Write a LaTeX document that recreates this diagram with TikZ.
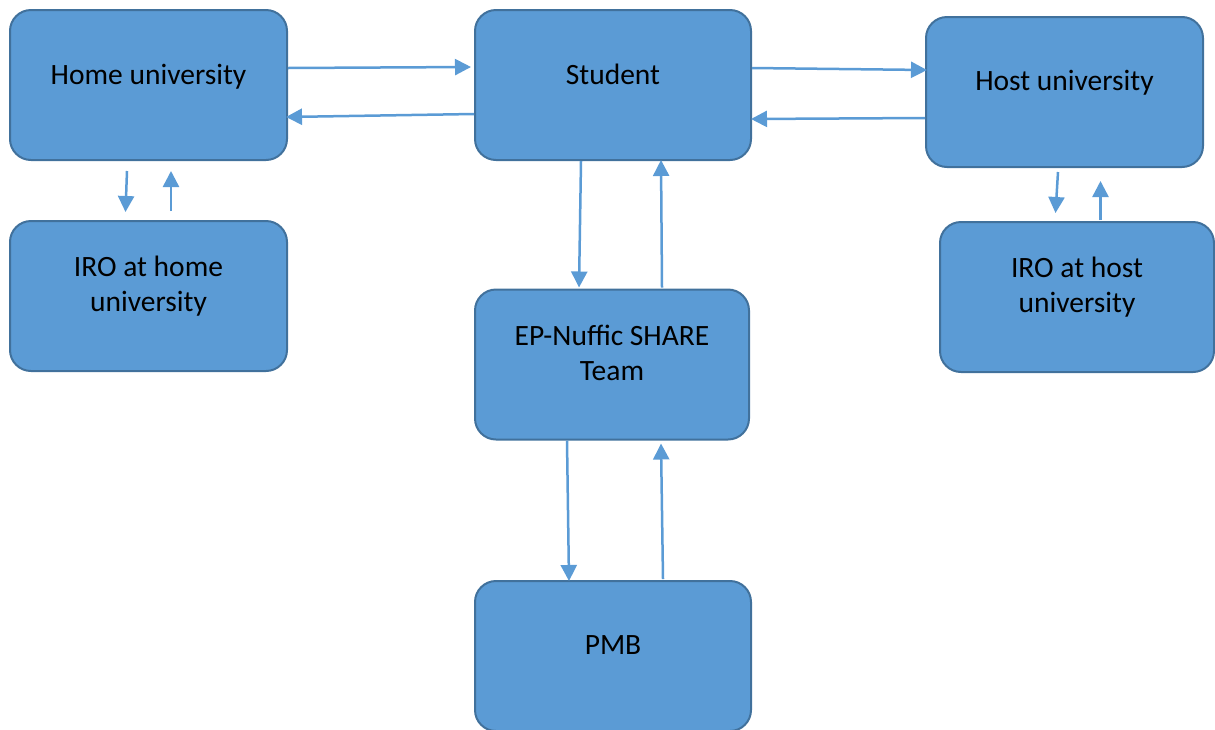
\documentclass[tikz,border=0pt]{standalone}
\usepackage{fontspec}
\setmainfont{Carlito}
\usetikzlibrary{arrows.meta}
\definecolor{boxfill}{HTML}{5B9BD5}
\definecolor{boxline}{HTML}{41719C}
\definecolor{arrcol}{HTML}{5B9BD5}
\tikzset{
  boxnode/.style={draw=boxline, fill=boxfill, line width=2pt, rounded corners=21pt,
    inner sep=0pt, minimum width=#1, minimum height=150pt},
  boxnode/.default=277pt,
  txt/.style={font=\fontsize{29.5}{35}\selectfont, align=center, text=black, inner sep=0pt},
  arr/.style={draw=arrcol, line width=2.5pt, -{Triangle[length=16pt,width=16pt]}}
}
\begin{document}
\begin{tikzpicture}[x=1pt,y=-1pt]
\useasboundingbox (0,0) rectangle (1215,729);
\begin{scope}
\clip (0,0) rectangle (1215,729);
\node[boxnode, label={[txt, yshift=8.5pt]center:Home university}] (home) at (148.5,85) {};
\node[boxnode=276pt, label={[txt, yshift=11pt]center:Student}] (student) at (613,85) {};
\node[boxnode, label={[txt, yshift=9pt]center:Host university}] (host) at (1064.5,92) {};
\node[boxnode, label={[txt, yshift=10pt]center:{IRO at home\\university}}] (irohome) at (148.5,296) {};
\node[boxnode=274pt, label={[txt, yshift=10pt]center:{IRO at host\\university}}] (irohost) at (1077,297) {};
\node[boxnode=274pt, label={[txt, yshift=12pt]center:{EP-Nuffic SHARE\\Team}}] (ep) at (612,364.5) {};
\node[boxnode=276pt, label={[txt, yshift=11pt]center:PMB}] (pmb) at (613,656) {};
\end{scope}
% horizontal connectors
\draw[arr] ([yshift=17pt]home.east) -- ([xshift=-3pt,yshift=18pt]student.west);
\draw[arr] ([yshift=-29pt]student.west) -- ([xshift=-2pt,yshift=-32pt]home.east);
\draw[arr] ([yshift=17pt]student.east) -- ([xshift=2pt,yshift=22pt]host.west);
\draw[arr] ([yshift=-26pt]host.west) -- ([xshift=-1pt,yshift=-34pt]student.east);
% home / IRO home
\draw[arr] ([xshift=-21.5pt,yshift=-10pt]home.south) -- ([xshift=-23pt,yshift=8pt]irohome.north);
\draw[arr] ([xshift=22.5pt,yshift=9pt]irohome.north) -- ([xshift=22.5pt,yshift=-10pt]home.south);
% host / IRO host
\draw[arr] ([xshift=-6.5pt,yshift=-4pt]host.south) -- ([xshift=-21.5pt,yshift=8pt]irohost.north);
\draw[arr] ([xshift=23.5pt,yshift=1pt]irohost.north) -- ([xshift=36pt,yshift=-13pt]host.south);
% student / EP
\draw[arr] ([xshift=-32pt]student.south) -- ([xshift=-33pt,yshift=1pt]ep.north);
\draw[arr] ([xshift=50pt,yshift=1pt]ep.north) -- ([xshift=48pt,yshift=1pt]student.south);
% EP / PMB
\draw[arr] ([xshift=-45pt]ep.south) -- ([xshift=-44pt,yshift=-1pt]pmb.north);
\draw[arr] ([xshift=50pt,yshift=1pt]pmb.north) -- ([xshift=49pt,yshift=-3pt]ep.south);
\end{tikzpicture}
\end{document}
